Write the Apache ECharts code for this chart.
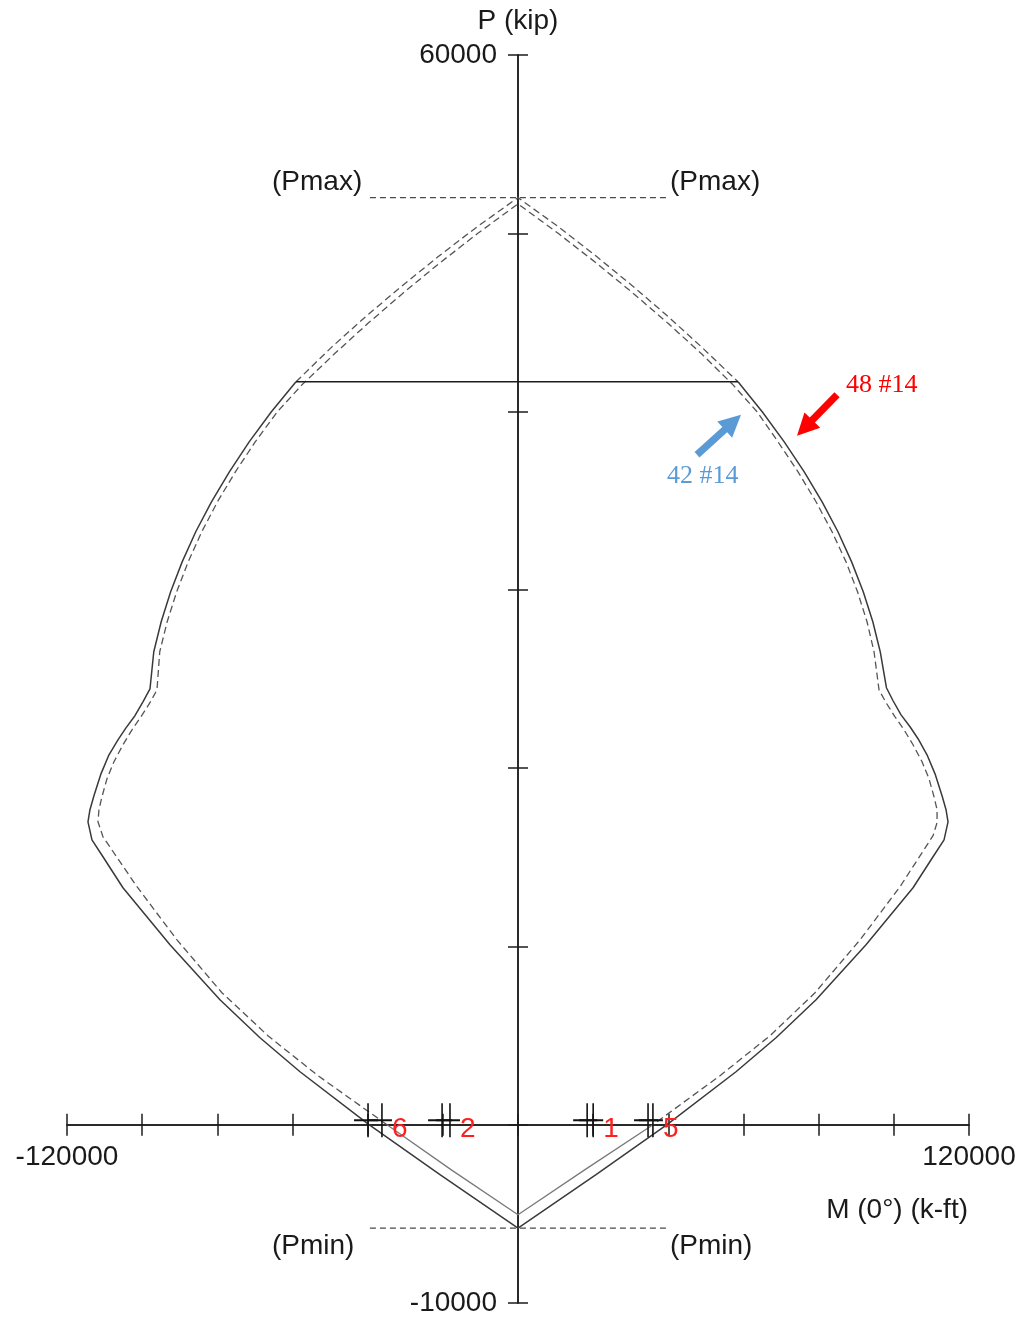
<!DOCTYPE html>
<html>
<head>
<meta charset="utf-8">
<script src="https://cdn.jsdelivr.net/npm/echarts@6/dist/echarts.min.js"></script>
<style>
  html, body { margin: 0; padding: 0; background: #ffffff; }
  #chart { width: 1024px; height: 1321px; }
</style>
</head>
<body>
<div id="chart"></div>
<script>
// P-M interaction diagram of a column section, moment about 0° axis.
// M in k-ft, P in kip.

// Outer diagram (48 #14): capped part above 0.80 Pmax, drawn dashed
const outerCapM = [-59070, -49500, -40600, -31200, -21300, -10900, 0, 10780, 21020, 30790, 40050, 48800, 58540];
const outerCapP = [41670, 43630, 45310, 46990, 48680, 50360, 52000, 50360, 48680, 46990, 45310, 43630, 41670];

// Outer diagram (48 #14): usable part, drawn solid
const outerM = [-59070, -65620, -71530, -76800, -81560, -85740, -89360, -92420, -94940, -96910,
  -97920, -99790, -101920, -104310, -106440, -108830, -110960, -112830, -113890, -114420,
  -113360, -110430, -105110, -92600, -79300, -68650, -58000, -39650, -20760, 0,
  20760, 39650, 58010, 68650, 79300, 92600, 105110, 110430, 113360, 114420,
  113890, 112830, 110960, 108830, 106440, 104310, 101920, 99790, 98030, 96380,
  94410, 91860, 88770, 85130, 80920, 76160, 70840, 64980, 58540];
const outerP = [41670, 39990, 38300, 36620, 34940, 33260, 31570, 29890, 28210, 26530,
  24450, 23720, 22940, 22260, 21590, 20750, 19680, 18450, 17670, 16990,
  15980, 15030, 13290, 10090, 7010, 4880, 2970, 0, -2800, -5800,
  -2800, 0, 2970, 4880, 7010, 10090, 13290, 15030, 15980, 16990,
  17670, 18450, 19680, 20750, 21650, 22320, 22990, 23780, 24510, 26530,
  28210, 29890, 31570, 33260, 34940, 36620, 38300, 39990, 41670];

// Inner diagram (42 #14): compression side, drawn dashed
const innerM = [-34860, -53220, -66530, -78770, -90740, -101380, -110430, -111760, -111500, -110700,
  -109370, -107500, -105110, -102710, -100320, -97930, -96060, -95320, -93350, -90820,
  -87760, -84140, -79960, -75200, -69930, -64020, -57480, -48830, -40070, -30840,
  -21100, -10860, 0, 10860, 21100, 30840, 40070, 48830, 57210, 63600,
  69190, 74510, 79300, 83560, 87280, 90340, 92870, 94730, 96060, 97930,
  100320, 102710, 105110, 107500, 109370, 110700, 111500, 111500, 110430, 101650,
  91010, 79030, 67060, 53750, 35920];
const innerP = [0, 2750, 4990, 7400, 10370, 13350, 16150, 16990, 17670, 18390,
  19400, 20360, 21310, 22150, 22880, 23670, 24390, 26530, 28210, 29890,
  31570, 33260, 34940, 36620, 38300, 39990, 41500, 43240, 44920, 46600,
  48290, 49970, 51650, 49970, 48290, 46600, 44920, 43240, 41500, 39990,
  38300, 36620, 34940, 33260, 31570, 29890, 28210, 26530, 24390, 23670,
  22880, 22150, 21310, 20360, 19400, 18390, 17670, 16940, 16210, 13350,
  10370, 7400, 4990, 2750, 0];

// Inner diagram (42 #14): tension side, drawn solid
const innerBaseM = [-34860, -17830, 0, 17830, 35920];
const innerBaseP = [0, -2520, -5050, -2520, 0];

// Axial limits of the outer section
const pMaxLineM = [-39400, 40200];
const pMaxLineP = [52000, 52000];
const pMinLineM = [-39400, 40200];
const pMinLineP = [-5800, -5800];

// Factored load points (two markers per load case)
const loadNames = ['6', '2', '1', '5'];
const loadM1 = [-39900, -20200, 18400, 34600];
const loadM2 = [-36200, -18100, 20000, 35900];
const loadP = [250, 250, 250, 250];

// Axis ranges and the labelled ticks
const mRange = [-120000, 120000];
const mStep = 20000;
const pRange = [-10000, 60000];
const pStep = 10000;
const mTickLabels = [-120000, 120000];
const pTickLabels = [-10000, 60000];

// Annotation arrows: [tailM, tailP, tipM, tipP]
const arrowRed = [84890, 40950, 74240, 38640];
const arrowBlue = [47630, 37580, 59340, 39820];

const zip = (a, b) => a.map((v, i) => [v, b[i]]);

const FONT = 'Liberation Sans, Arial, Helvetica, sans-serif';
const SERIF = 'Liberation Serif, Times New Roman, serif';
const AXIS = '#1c1c1c';
const INK = '#1a1a1a';

function axisPair(range, step, tickLen, pos) {
  const base = {
    type: 'value', min: range[0], max: range[1], interval: step, position: pos,
    splitLine: { show: false },
    axisLabel: { show: false },
    axisLine: { show: true, onZero: true, lineStyle: { color: AXIS, width: 1.5 } }
  };
  const a = Object.assign({}, base, {
    axisTick: { show: true, inside: false, length: tickLen, lineStyle: { color: AXIS, width: 1.5 } }
  });
  const b = Object.assign({}, base, {
    axisTick: { show: true, inside: true, length: tickLen, lineStyle: { color: AXIS, width: 1.5 } }
  });
  return [a, b];
}

function arrowShape(api, d, color) {
  const t = api.coord([d[0], d[1]]);
  const h = api.coord([d[2], d[3]]);
  const dx = h[0] - t[0], dy = h[1] - t[1];
  const L = Math.sqrt(dx * dx + dy * dy);
  const ux = dx / L, uy = dy / L, nx = -uy, ny = ux;
  const head = 22, hw = 11, sw = 3.6;
  const bx = h[0] - ux * head, by = h[1] - uy * head;
  const pts = [
    [t[0] + nx * sw, t[1] + ny * sw],
    [bx + nx * sw, by + ny * sw],
    [bx + nx * hw, by + ny * hw],
    [h[0], h[1]],
    [bx - nx * hw, by - ny * hw],
    [bx - nx * sw, by - ny * sw],
    [t[0] - nx * sw, t[1] - ny * sw]
  ];
  return { type: 'polygon', shape: { points: pts }, style: { fill: color } };
}

const chart = echarts.init(document.getElementById('chart'), null, { renderer: 'canvas' });

const dashed = { color: '#555555', width: 1.3, type: [7, 4] };

chart.setOption({
  animation: false,
  backgroundColor: '#ffffff',
  grid: { left: 67, right: 55, top: 55, bottom: 18, containLabel: false, outerBoundsMode: 'none' },
  xAxis: axisPair(mRange, mStep, 11, 'bottom'),
  yAxis: axisPair(pRange, pStep, 10, 'left'),
  series: [
    {
      name: '48 #14 cap', type: 'line', data: zip(outerCapM, outerCapP),
      showSymbol: false, lineStyle: dashed, z: 3
    },
    {
      name: '48 #14', type: 'line', data: zip(outerM, outerP),
      showSymbol: false, lineStyle: { color: '#3a3a3a', width: 1.5 }, z: 3
    },
    {
      name: '42 #14', type: 'line', data: zip(innerM, innerP),
      showSymbol: false, lineStyle: dashed, z: 3
    },
    {
      name: '42 #14 tension', type: 'line', data: zip(innerBaseM, innerBaseP),
      showSymbol: false, lineStyle: { color: '#7a7a7a', width: 1.3 }, z: 3
    },
    {
      name: '0.80 Pmax', type: 'line',
      data: zip([outerCapM[0], outerCapM[outerCapM.length - 1]], [outerCapP[0], outerCapP[outerCapP.length - 1]]),
      showSymbol: false, lineStyle: { color: '#1c1c1c', width: 1.5 }, z: 3
    },
    {
      name: 'Pmax', type: 'line', data: zip(pMaxLineM, pMaxLineP),
      showSymbol: false, lineStyle: { color: '#4a4a4a', width: 1.3, type: [6, 4] }, z: 2
    },
    {
      name: 'Pmin', type: 'line', data: zip(pMinLineM, pMinLineP),
      showSymbol: false, lineStyle: { color: '#4a4a4a', width: 1.3, type: [6, 4] }, z: 2
    },
    {
      // end tick labels of both axes, placed on the axis lines
      name: 'tick labels', type: 'custom', z: 4,
      data: mTickLabels.map(v => [v, 0, 0]).concat(pTickLabels.map(v => [0, v, 1])),
      renderItem(params, api) {
        const onX = api.value(2) === 0;
        const v = onX ? api.value(0) : api.value(1);
        const c = api.coord([api.value(0), api.value(1)]);
        return {
          type: 'text',
          x: onX ? c[0] : c[0] - 21,
          y: onX ? c[1] + 33 : c[1],
          style: {
            text: String(v), font: '28px ' + FONT, fill: INK,
            align: onX ? 'center' : 'right', verticalAlign: 'middle'
          }
        };
      }
    },
    {
      name: 'loads', type: 'custom', z: 5,
      data: loadNames.map((n, i) => [loadM1[i], loadM2[i], loadP[i], i]),
      renderItem(params, api) {
        const a = api.coord([api.value(0), api.value(2)]);
        const b = api.coord([api.value(1), api.value(2)]);
        const stroke = { stroke: '#111111', lineWidth: 1.6 };
        const cross = c => [
          { type: 'line', shape: { x1: c[0] - 14, y1: c[1], x2: c[0] + 10, y2: c[1] }, style: Object.assign({}, stroke, { lineWidth: 2 }) },
          { type: 'line', shape: { x1: c[0], y1: c[1] - 17, x2: c[0], y2: c[1] + 17 }, style: stroke }
        ];
        return {
          type: 'group',
          children: cross(a).concat(cross(b)).concat([{
            type: 'text', x: b[0] + 10, y: b[1] + 9,
            style: { text: loadNames[api.value(3)], fill: '#ff1f1f', font: '28px ' + FONT, align: 'left', verticalAlign: 'middle' }
          }])
        };
      }
    },
    {
      name: 'arrows', type: 'custom', z: 6,
      data: [arrowRed.concat([0]), arrowBlue.concat([1])],
      renderItem(params, api) {
        const d = [api.value(0), api.value(1), api.value(2), api.value(3)];
        return arrowShape(api, d, api.value(4) === 0 ? '#ff0000' : '#5b9bd5');
      }
    }
  ],
  graphic: [
    { type: 'text', x: 518, y: 21, style: { text: 'P (kip)', font: '28px ' + FONT, fill: INK, align: 'center', verticalAlign: 'middle' } },
    { type: 'text', x: 968, y: 1210, style: { text: 'M (0°) (k-ft)', font: '28px ' + FONT, fill: INK, align: 'right', verticalAlign: 'middle' } },
    { type: 'text', x: 272, y: 182, style: { text: '(Pmax)', font: '28px ' + FONT, fill: INK, align: 'left', verticalAlign: 'middle' } },
    { type: 'text', x: 670, y: 182, style: { text: '(Pmax)', font: '28px ' + FONT, fill: INK, align: 'left', verticalAlign: 'middle' } },
    { type: 'text', x: 272, y: 1246, style: { text: '(Pmin)', font: '28px ' + FONT, fill: INK, align: 'left', verticalAlign: 'middle' } },
    { type: 'text', x: 670, y: 1246, style: { text: '(Pmin)', font: '28px ' + FONT, fill: INK, align: 'left', verticalAlign: 'middle' } },
    { type: 'text', x: 846, y: 385, style: { text: '48 #14', font: '26px ' + SERIF, fill: '#ff0000', align: 'left', verticalAlign: 'middle' } },
    { type: 'text', x: 667, y: 476, style: { text: '42 #14', font: '26px ' + SERIF, fill: '#5b9bd5', align: 'left', verticalAlign: 'middle' } }
  ]
});
</script>
</body>
</html>
